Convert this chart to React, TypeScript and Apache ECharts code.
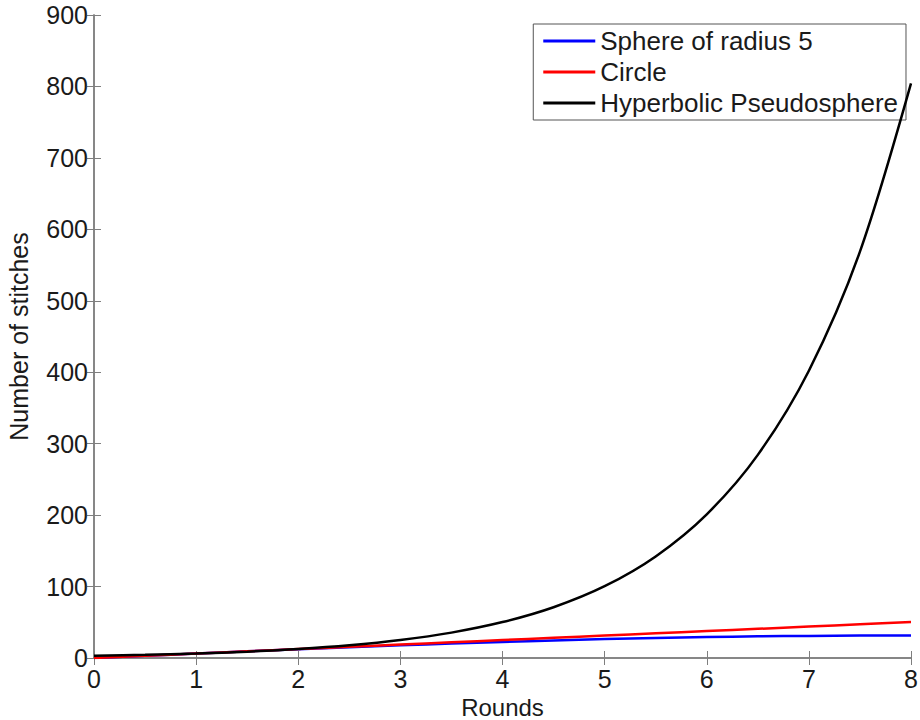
import React, { useEffect, useRef } from "react";
import * as echarts from "echarts";

const rounds = [0, 0.5, 1, 1.5, 2, 2.5, 3, 3.5, 4, 4.5, 5, 5.5, 6, 6.5, 7, 7.5, 8];
const sphere = [0, 3.14, 6.24, 9.28, 12.23, 15.06, 17.74, 20.24, 22.54, 24.61, 26.44, 28.0, 29.28, 30.27, 30.96, 31.34, 31.4];
const circle = [0, 3.14, 6.28, 9.42, 12.57, 15.71, 18.85, 21.99, 25.13, 28.27, 31.42, 34.56, 37.7, 40.84, 43.98, 47.12, 50.27];
const hyperbolic = [3.14, 4.44, 6.28, 8.89, 12.57, 17.77, 25.13, 35.54, 50.27, 71.09, 100.5, 142.2, 201.1, 284.3, 402.1, 568.7, 804.2];
const seriesNames = ["Sphere of radius 5", "Circle", "Hyperbolic Pseudosphere"];
const colors = ["#0000ff", "#ff0000", "#000000"];

const FONT = "Liberation Sans, Arial, sans-serif";
const TEXT = "#1a1a1a";

export default function App() {
  const ref = useRef<HTMLDivElement>(null);
  useEffect(() => {
    if (!ref.current) return;
    const chart = echarts.init(ref.current, undefined, { renderer: "svg" });
    const pairs = (ys: number[]) => rounds.map((x, i) => [x, ys[i]]);
    const axisCommon = {
      axisLine: { show: true, lineStyle: { color: "#7f7f7f", width: 1.5 } },
      axisTick: { show: true, inside: true, length: 7, lineStyle: { color: "#7f7f7f", width: 1 } },
      splitLine: { show: false },
    };
    chart.setOption({
      animation: false,
      backgroundColor: "#ffffff",
      grid: { left: 94, right: 9, top: 15, bottom: 62, containLabel: false, outerBoundsMode: "none" },
      legend: {
        data: seriesNames.map((n) => ({ name: n, icon: "rect" })),
        orient: "vertical",
        right: 14,
        top: 24,
        backgroundColor: "#ffffff",
        borderColor: "#555555",
        borderWidth: 1,
        borderRadius: 0,
        padding: [4, 8, 4, 10],
        itemWidth: 52,
        itemHeight: 3,
        itemGap: 5,
        textStyle: { fontFamily: FONT, fontSize: 26, lineHeight: 26, color: TEXT },
      },
      xAxis: [
        {
          type: "value",
          min: 0,
          max: 8,
          interval: 1,
          position: "bottom",
          name: "Rounds",
          nameLocation: "middle",
          nameGap: 30,
          nameTextStyle: { fontFamily: FONT, fontSize: 24, color: TEXT },
          axisLabel: { fontFamily: FONT, fontSize: 25, color: TEXT, margin: 8 },
          ...axisCommon,
        },
        {
          type: "value",
          min: 0,
          max: 8,
          interval: 1,
          position: "top",
          axisLabel: { show: false },
          ...axisCommon,
        },
      ],
      yAxis: [
        {
          type: "value",
          min: 0,
          max: 900,
          interval: 100,
          position: "left",
          name: "Number of stitches",
          nameLocation: "middle",
          nameGap: 63,
          nameTextStyle: { fontFamily: FONT, fontSize: 25, color: TEXT },
          axisLabel: { fontFamily: FONT, fontSize: 25, color: TEXT, margin: 6 },
          ...axisCommon,
        },
        {
          type: "value",
          min: 0,
          max: 900,
          interval: 100,
          position: "right",
          axisLabel: { show: false },
          ...axisCommon,
        },
      ],
      series: [sphere, circle, hyperbolic].map((ys, i) => ({
        name: seriesNames[i],
        type: "line",
        data: pairs(ys),
        smooth: 0.3,
        symbol: "none",
        color: colors[i],
        lineStyle: { color: colors[i], width: 2.5 },
        z: 2 + i,
      })),
    });
    return () => chart.dispose();
  }, []);
  return (
    <div
      ref={ref}
      style={{ position: "fixed", left: 0, top: 0, width: 920, height: 720, background: "#fff" }}
    />
  );
}
